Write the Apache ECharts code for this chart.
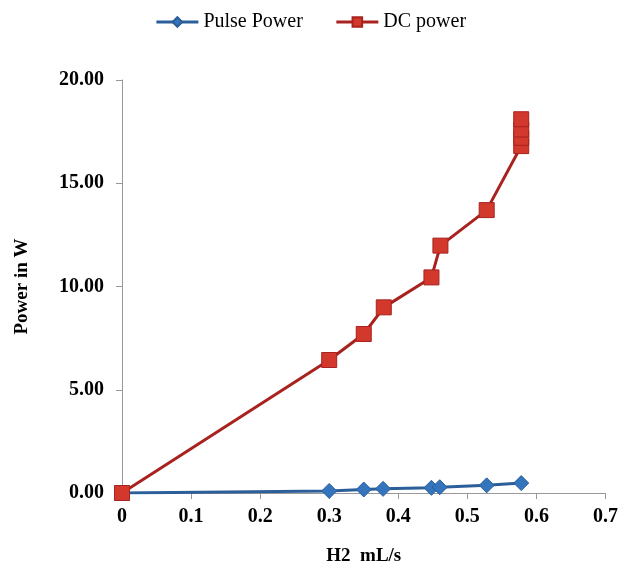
<!DOCTYPE html>
<html>
<head>
<meta charset="utf-8">
<script src="https://cdn.jsdelivr.net/npm/echarts@6/dist/echarts.min.js"></script>
<style>
  html, body { margin: 0; padding: 0; background: #fff; }
  #chart { width: 621px; height: 572px; }
</style>
</head>
<body>
<div id="chart"></div>
<script>
// H2 flow (mL/s) and power readings
const pulseX = [0, 0.3, 0.35, 0.378, 0.448, 0.46, 0.528, 0.578];
const pulseY = [0, 0.1, 0.17, 0.2, 0.25, 0.28, 0.37, 0.48];
const dcX = [0, 0.3, 0.35, 0.379, 0.448, 0.461, 0.528, 0.578, 0.578, 0.578, 0.578];
const dcY = [0, 6.44, 7.7, 8.99, 10.44, 11.98, 13.7, 16.8, 17.2, 17.6, 18.1];
const seriesNames = ['Pulse Power', 'DC power'];

const font = '"Liberation Serif", "DejaVu Serif", serif';

function pairs(xs, ys) {
  return xs.map((x, i) => [x, ys[i]]);
}

let myChart = echarts.init(document.getElementById('chart'));
let option = {
  animation: false,
  backgroundColor: '#fff',
  legend: {
    top: 7,
    left: 'center',
    itemWidth: 42,
    itemHeight: 12,
    itemGap: 32,
    lineStyle: { width: 3 },
    textStyle: { fontFamily: font, fontSize: 20, color: '#000' },
    data: seriesNames
  },
  grid: {
    left: 122,
    right: 13,
    top: 80,
    bottom: 79
  },
  xAxis: {
    type: 'value',
    min: 0,
    max: 0.7,
    interval: 0.1,
    name: 'H2  mL/s',
    nameLocation: 'middle',
    nameGap: 54,
    nameTextStyle: { fontFamily: font, fontSize: 19, fontWeight: 'bold', color: '#000' },
    axisLine: { lineStyle: { color: '#999', width: 1 } },
    axisTick: { show: true, inside: false, length: 6, lineStyle: { color: '#999' } },
    splitLine: { show: false },
    axisLabel: {
      fontFamily: font, fontSize: 20, fontWeight: 'bold', color: '#000', margin: 14,
      formatter: v => v === 0 ? '0' : v.toFixed(1)
    }
  },
  yAxis: {
    type: 'value',
    min: 0,
    max: 20,
    interval: 5,
    name: 'Power in W',
    nameLocation: 'middle',
    nameGap: 90,
    nameTextStyle: { fontFamily: font, fontSize: 19, fontWeight: 'bold', color: '#000' },
    axisLine: { show: true, lineStyle: { color: '#999', width: 1 } },
    axisTick: { show: true, inside: false, length: 6, lineStyle: { color: '#999' } },
    splitLine: { show: false },
    axisLabel: {
      fontFamily: font, fontSize: 20, fontWeight: 'bold', color: '#000', margin: 18,
      formatter: v => v.toFixed(2)
    }
  },
  series: [
    {
      name: seriesNames[0],
      type: 'line',
      data: pairs(pulseX, pulseY),
      symbol: 'diamond',
      symbolSize: 15,
      lineStyle: { color: '#2c5f9a', width: 3 },
      itemStyle: { color: '#3474bd', borderColor: '#2c5f9a', borderWidth: 1 }
    },
    {
      name: seriesNames[1],
      type: 'line',
      data: pairs(dcX, dcY),
      symbol: 'rect',
      symbolSize: 15,
      lineStyle: { color: '#a8231f', width: 3 },
      itemStyle: { color: '#d2382c', borderColor: '#a8231f', borderWidth: 1 }
    }
  ]
};
myChart.setOption(option);
</script>
</body>
</html>
